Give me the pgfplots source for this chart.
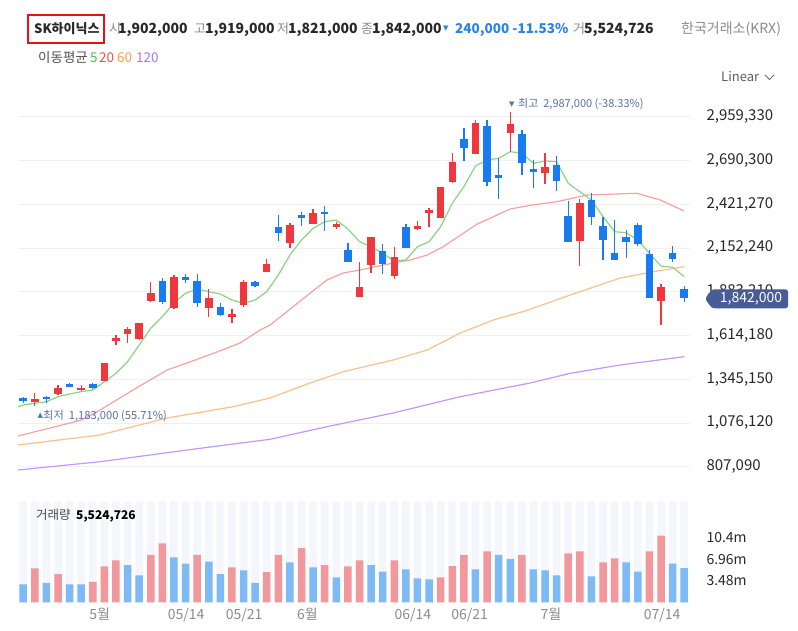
\documentclass[border=0pt]{standalone}
\usepackage{pgfplots}
\pgfplotsset{compat=1.18}
\usepackage{pgfplotstable}
\usepackage{fontspec}
\setmainfont{Noto Sans CJK KR}
\newfontfamily\dejavu{DejaVu Sans}
\definecolor{cred}{RGB}{238,56,62}
\definecolor{cblue}{RGB}{24,124,240}
\definecolor{vred}{RGB}{242,152,157}
\definecolor{vblue}{RGB}{126,186,246}
\definecolor{strip}{RGB}{244,246,251}
\definecolor{ma5}{RGB}{140,212,130}
\definecolor{ma20}{RGB}{246,162,162}
\definecolor{ma60}{RGB}{250,192,142}
\definecolor{ma120}{RGB}{196,152,246}
\definecolor{l5}{RGB}{80,185,80}
\definecolor{l20}{RGB}{240,80,80}
\definecolor{l60}{RGB}{245,160,70}
\definecolor{l120}{RGB}{165,120,240}
\definecolor{slate}{RGB}{92,112,168}
\definecolor{tagc}{RGB}{72,92,150}
\definecolor{hblue}{RGB}{40,130,235}
\definecolor{gtext}{RGB}{140,140,140}
\definecolor{dtext}{RGB}{40,40,40}
\definecolor{boxred}{RGB}{226,20,24}
\definecolor{gridc}{RGB}{238,240,244}

\pgfplotstableread{
i O H L C
1 1204935 1262124 1183000 1221539
3 1252285 1309473 1247980 1292870
5 1278727 1307629 1274422 1292870
7 1335915 1444758 1334071 1442913
8 1581887 1616939 1555446 1600335
9 1623088 1664288 1565899 1653834
10 1590497 1692575 1586192 1688885
11 1827859 1944696 1821710 1877054
13 1781125 1985897 1774976 1975443
16 1781125 1897961 1729471 1842618
18 1725781 1774976 1692575 1744229
19 1801418 1955150 1790964 1944696
21 2006189 2082441 2006189 2053539
23 2184519 2303815 2150083 2293362
25 2299511 2389906 2299511 2365308
27 2279220 2313654 2266920 2297666
29 1852457 2067682 1852457 1910260
30 2047390 2221415 1996350 2221415
32 1979747 2159922 1959455 2098429
34 2268764 2317959 2262615 2289057
35 2365308 2396055 2282908 2385601
36 2334562 2525190 2334562 2525190
37 2559626 2737956 2553477 2682612
39 2729962 2939038 2729962 2918745
42 2860942 2987000 2744105 2914441
45 2611280 2734266 2543638 2648176
48 2196817 2451398 2041240 2426801
55 1827859 1930553 1678432 1913950
}\redc

\pgfplotstableread{
i O H L C
0 1231377 1237527 1200631 1212929
2 1237527 1241831 1198786 1221539
4 1315623 1323617 1295330 1299020
6 1313778 1319927 1283032 1289181
12 1949001 1965604 1805722 1821710
14 1975443 1990201 1934857 1955150
15 1950845 1990201 1790964 1815561
17 1790964 1815561 1733775 1739925
20 1941007 1950845 1913950 1920099
22 2279220 2354855 2196817 2242322
24 2354855 2375147 2287212 2334562
26 2375147 2410198 2258310 2361004
28 2139629 2184519 2063993 2067682
31 2135324 2176525 1992046 2051694
33 2279220 2299511 2150083 2150083
38 2822201 2887999 2688761 2765013
40 2902142 2939038 2533184 2555937
41 2598982 2703520 2451398 2582379
43 2851103 2877545 2600827 2676463
44 2635877 2693066 2519041 2619274
46 2662320 2717663 2504282 2565776
47 2348705 2442789 2190668 2190668
49 2447094 2491984 2293362 2340711
50 2287212 2340711 2078136 2201122
51 2119336 2324108 2078136 2078136
52 2221415 2262615 2092279 2190668
53 2293362 2303815 2164226 2176525
54 2113187 2139629 1842618 1842618
56 2119336 2164226 2067682 2082000
57 1902000 1919000 1821000 1842000
}\bluec

\pgfplotstableread{
i v
-0.45 1176033
0 1186487
1 1196941
2 1206785
3 1237527
4 1254130
5 1268273
6 1278727
7 1329766
8 1381420
9 1452753
10 1555446
11 1658139
12 1729472
13 1815000
14 1873361
15 1899802
16 1883199
17 1869056
18 1832164
19 1811871
20 1832164
21 1883199
22 1985893
23 2108879
24 2201118
25 2273065
26 2313650
27 2324104
28 2268768
29 2190668
30 2159922
31 2119336
32 2071987
33 2078136
34 2159922
35 2190668
36 2282908
37 2426801
38 2528880
39 2656170
40 2693066
41 2703520
42 2744106
43 2734267
44 2672773
45 2686917
46 2682612
47 2549787
48 2498136
49 2447094
50 2344403
51 2252164
52 2246015
53 2201118
54 2119336
55 2041240
56 2033246
57 1975439
}\maA

\pgfplotstableread{
i v
-0.45 995859
2.31 1045054
5.05 1094248
6.63 1155741
9.47 1278727
12.41 1401713
14.13 1444758
16.72 1512400
18.70 1567744
20.43 1647685
21.29 1678432
23.27 1790964
26.19 1955150
27.59 1998195
29.06 2016643
31.90 2059688
33.37 2078136
34.84 2108883
36.22 2159922
39.15 2299511
42.00 2391750
43.72 2414503
46.03 2436640
48.62 2477841
52.93 2488295
54.94 2447094
57 2379452
}\maB

\pgfplotstableread{
i v
-0.45 940515
6.63 1002008
12.41 1106547
18.10 1176034
21.29 1229533
24.74 1321772
27.59 1391259
31.90 1463206
34.84 1524699
37.69 1629237
40.53 1709178
43.29 1764522
47.18 1862911
51.49 1967449
54.34 2006189
57 2036936
}\maC

\pgfplotstableread{
i v
-0.45 786783
6.63 837822
15.26 920220
21.29 975567
26.19 1053048
31.90 1137293
37.69 1237527
43.72 1321772
47.18 1381420
51.49 1432460
57 1483499
}\maD

\pgfplotstableread{
i v
1 5.48
3 4.57
6 3.29
7 5.80
8 6.77
11 7.62
12 9.49
15 7.62
18 5.64
21 4.89
22 7.62
24 8.74
26 6.01
28 5.80
29 6.77
32 6.77
36 4.04
37 5.85
38 7.62
40 8.21
43 7.62
47 7.89
48 8.21
50 6.45
51 7.09
54 8.21
55 10.71
}\volr

\pgfplotstableread{
i v
0 2.92
2 3.13
4 2.92
5 2.92
9 6.01
10 4.36
13 7.25
14 6.22
16 6.54
17 4.57
19 5.16
20 3.13
23 6.45
25 5.64
27 4.04
30 6.01
31 4.94
33 5.32
34 3.88
35 3.72
39 5.32
41 7.62
42 6.98
44 5.32
45 5.16
46 4.36
49 4.20
52 6.45
53 4.94
56 6.22
57 5.52
}\volb

\pgfplotsset{
  candle/.style 2 args={draw=none, mark=none, forget plot,
    error bars/.cd, y dir=both, y explicit, error mark=none,
    error bar style={line width=#2, draw=#1, solid}},
}

\begin{document}
\begin{tikzpicture}
\useasboundingbox (0pt,0pt) rectangle (798pt,631pt);
\fill[white] (0pt,0pt) rectangle (798pt,631pt);

% ---------- price panel ----------
\begin{axis}[
  at={(18pt,151pt)}, anchor=south west,
  width=672pt, height=395pt, scale only axis,
  xmin=-0.45, xmax=57.5,
  ymin=725290, ymax=3154264,
  axis line style={draw=none},
  tick style={draw=none},
  xtick=\empty,
  scaled y ticks=false,
  ytick={807090,1076120,1345150,1614180,1883210,2152240,2421270,2690300,2959330},
  yticklabels={{807,090},{1,076,120},{1,345,150},{1,614,180},{1,883,210},{2,152,240},{2,421,270},{2,690,300},{2,959,330}},
  yticklabel pos=right,
  yticklabel style={anchor=west, xshift=13pt, font=\fontsize{15}{15}\selectfont, text=dtext},
  ymajorgrids, grid style={gridc, line width=0.8pt},
  /pgf/number format/assume math mode=true,
]
\addplot[ma120, line width=1.2pt, forget plot] table[x=i,y=v]{\maD};
\addplot[ma60, line width=1.2pt, forget plot] table[x=i,y=v]{\maC};
\addplot[ma20, line width=1.2pt, forget plot] table[x=i,y=v]{\maB};
\addplot[ma5, line width=1.2pt, forget plot] table[x=i,y=v]{\maA};
% wicks
\addplot[candle={cred}{1.3pt}]
  table[x=i, y expr={(\thisrow{H}+\thisrow{L})/2}, y error expr={(\thisrow{H}-\thisrow{L})/2}] {\redc};
\addplot[candle={cblue}{1.3pt}]
  table[x=i, y expr={(\thisrow{H}+\thisrow{L})/2}, y error expr={(\thisrow{H}-\thisrow{L})/2}] {\bluec};
% bodies
\addplot[candle={cred}{7.5pt}]
  table[x=i, y expr={(\thisrow{O}+\thisrow{C})/2}, y error expr={abs(\thisrow{C}-\thisrow{O})/2}] {\redc};
\addplot[candle={cblue}{7.5pt}]
  table[x=i, y expr={(\thisrow{O}+\thisrow{C})/2}, y error expr={abs(\thisrow{C}-\thisrow{O})/2}] {\bluec};
\end{axis}

% ---------- volume panel ----------
\begin{axis}[
  at={(18pt,28.5pt)}, anchor=south west,
  width=672pt, height=100.8pt, scale only axis,
  xmin=-0.45, xmax=57.5,
  ymin=0, ymax=16.17,
  axis line style={draw=none},
  tick style={draw=none},
  xtick={6.6,14.05,19.05,24.5,33.6,38.5,45.5,55.1},
  xticklabels={5월,05/14,05/21,6월,06/14,06/21,7월,07/14},
  xticklabel style={font=\fontsize{14}{14}\selectfont, text=gtext, yshift=-2pt},
  ytick={3.48,6.96,10.44},
  yticklabels={3.48m,6.96m,10.4m},
  yticklabel pos=right,
  yticklabel style={anchor=west, xshift=13pt, font=\fontsize{14}{14}\selectfont, text=dtext},
]
\addplot[ybar, bar width=7.5pt, bar shift=0pt, fill=strip, draw=none, forget plot] table[x=i, y expr=16.17]{\volr};
\addplot[ybar, bar width=7.5pt, bar shift=0pt, fill=strip, draw=none, forget plot] table[x=i, y expr=16.17]{\volb};
\addplot[ybar, bar width=7.5pt, bar shift=0pt, fill=vred, draw=none, forget plot] table[x=i, y=v]{\volr};
\addplot[ybar, bar width=7.5pt, bar shift=0pt, fill=vblue, draw=none, forget plot] table[x=i, y=v]{\volb};
\end{axis}

% ---------- price tag ----------
\fill[tagc, rounded corners=2.5pt] (712pt,322.7pt) -- (705pt,332.2pt) -- (712pt,341.7pt) -- (788pt,341.7pt) -- (788pt,322.7pt) -- cycle;
\node[white, inner sep=0, font=\fontsize{14}{14}\selectfont] at (751pt,332.2pt) {1,842,000};

% ---------- header ----------
\draw[boxred, line width=2.5pt] (28pt,588pt) rectangle (104pt,616pt);
\begin{scope}[every node/.style={anchor=base west, inner sep=0}]
\node[text=dtext, font=\bfseries\fontsize{13}{13}\selectfont] at (34pt,597pt) {SK하이닉스};
\node[text=gtext, font=\fontsize{13}{13}\selectfont] at (109pt,597pt) {시};
\node[text=dtext, font=\bfseries\fontsize{14}{14}\selectfont] at (118pt,597pt) {1,902,000};
\node[text=gtext, font=\fontsize{13}{13}\selectfont] at (194pt,597pt) {고};
\node[text=dtext, font=\bfseries\fontsize{14}{14}\selectfont] at (205pt,597pt) {1,919,000};
\node[text=gtext, font=\fontsize{13}{13}\selectfont] at (277pt,597pt) {저};
\node[text=dtext, font=\bfseries\fontsize{14}{14}\selectfont] at (288pt,597pt) {1,821,000};
\node[text=gtext, font=\fontsize{13}{13}\selectfont] at (361pt,597pt) {종};
\node[text=dtext, font=\bfseries\fontsize{14}{14}\selectfont] at (372pt,597pt) {1,842,000};
\node[text=hblue, font=\dejavu\fontsize{7}{7}\selectfont] at (443pt,600pt) {▼};
\node[text=hblue, font=\bfseries\fontsize{13.5}{13.5}\selectfont] at (455pt,597pt) {240,000 -11.53\%};
\node[text=gtext, font=\fontsize{13}{13}\selectfont] at (573pt,597pt) {거};
\node[text=dtext, font=\bfseries\fontsize{14}{14}\selectfont] at (584pt,597pt) {5,524,726};
\node[text=gtext, font=\fontsize{14}{14}\selectfont] at (681pt,597pt) {한국거래소(KRX)};

\node[text=dtext!80, font=\fontsize{13.5}{13.5}\selectfont] at (38pt,568pt) {이동평균};
\node[text=l5, font=\fontsize{13.5}{13.5}\selectfont] at (90pt,568pt) {5};
\node[text=l20, font=\fontsize{13.5}{13.5}\selectfont] at (99pt,568pt) {20};
\node[text=l60, font=\fontsize{13.5}{13.5}\selectfont] at (117pt,568pt) {60};
\node[text=l120, font=\fontsize{13.5}{13.5}\selectfont] at (136pt,568pt) {120};

\node[text=dtext!75, font=\fontsize{13}{13}\selectfont] at (721pt,549pt) {Linear};

\node[text=slate, font=\dejavu\fontsize{7}{7}\selectfont] at (509pt,524pt) {▼};
\node[text=slate, font=\fontsize{11}{11}\selectfont] at (518pt,523pt) {최고 \ 2,987,000 (-38.33\%)};
\node[text=slate, font=\dejavu\fontsize{7}{7}\selectfont] at (37.5pt,213pt) {▲};
\node[text=slate, font=\fontsize{11.2}{11.2}\selectfont] at (43pt,211pt) {최저 \ 1,183,000 (55.71\%)};

\node[text=dtext!85, font=\fontsize{12.5}{12.5}\selectfont] at (36pt,111pt) {거래량};
\node[text=black, font=\bfseries\fontsize{12}{12}\selectfont] at (76pt,111pt) {5,524,726};
\end{scope}
\draw[dtext!70, line width=1pt] (765pt,556pt) -- (769.5pt,551.5pt) -- (774pt,556pt);
\end{tikzpicture}
\end{document}
